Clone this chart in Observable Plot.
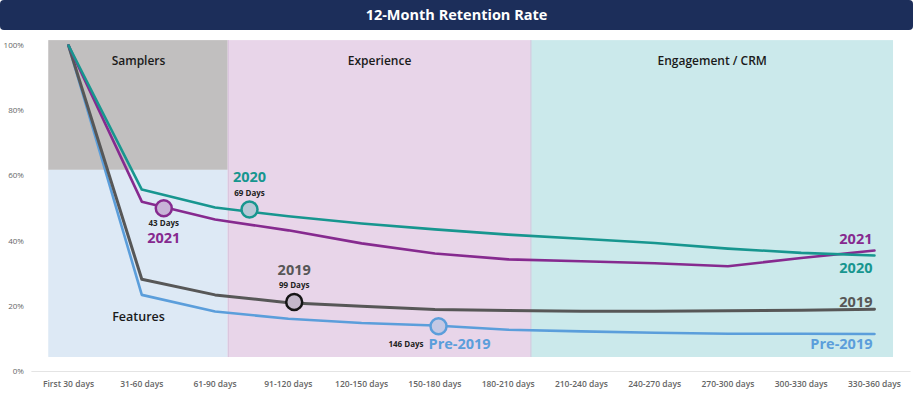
<!DOCTYPE html>
<html><head><meta charset="utf-8">
<script src="https://cdn.jsdelivr.net/npm/d3@7"></script>
<script src="https://cdn.jsdelivr.net/npm/@observablehq/plot@0.6"></script>
<style>
body{margin:0;background:#fff;font-family:"Open Sans",sans-serif;}
#title{width:913px;height:30px;background:#1c2e5a;border-radius:4px;color:#fff;font:700 14.5px "Open Sans",sans-serif;line-height:30px;text-align:center;}
#chart svg{display:block;}
</style></head><body>
<div id="title">12-Month Retention Rate</div>
<div id="chart"></div>
<script>
const categories = ["First 30 days","31-60 days","61-90 days","91-120 days","120-150 days","150-180 days","180-210 days","210-240 days","240-270 days","270-300 days","300-330 days","330-360 days"];
const seriesNames = ["Pre-2019","2019","2021","2020"];
const pre2019 = [100,23.5,18.4,16.2,14.9,14.1,12.8,12.3,11.9,11.6,11.6,11.5];
const s2019   = [100,28.3,23.5,21.1,20.0,19.0,18.7,18.5,18.5,18.6,18.8,19.1];
const s2021   = [100,52.1,46.6,43.3,39.3,36.2,34.4,33.8,33.2,32.3,34.8,37.1];
const s2020   = [100,55.8,50.3,47.6,45.4,43.6,42.0,40.7,39.4,37.7,36.4,35.6];
const yTicks = [0,20,40,60,80,100];

const phaseNames = ["Samplers","Features","Experience","Engagement / CRM"];
const phaseStart = [-0.27,-0.27,2.18,6.31];
const phaseEnd   = [2.18,2.18,6.31,11.26];
const phaseLow   = [61.7,4.3,4.3,4.3];
const phaseHigh  = [101.5,61.7,101.5,101.5];

const milestoneSeries = ["Pre-2019","2019","2020","2021"];
const milestoneLabels = ["146 Days","99 Days","69 Days","43 Days"];
const milestoneAt     = [5.05,3.08,2.47,1.30];
const milestoneRate   = [13.9,21.3,49.7,50.1];

// styles
const lineColor = {"Pre-2019":"#5b9edb","2019":"#575757","2020":"#17968f","2021":"#862a8f"};
const dotFill = {"Pre-2019":"#c3c8e4","2019":"#c3b7c9","2020":"#b6c8d6","2021":"#c8b3d7"};
const dotStroke = {"Pre-2019":"#5b9edb","2019":"#151515","2020":"#17968f","2021":"#862a8f"};
const phaseFill = {"Samplers":"#c1bfbf","Features":"#dde9f5","Experience":"#e8d5e9","Engagement / CRM":"#cbe9eb"};
const endDy = {"Pre-2019":10,"2019":-7,"2020":13,"2021":-11};

const valuesBy = {"Pre-2019":pre2019,"2019":s2019,"2020":s2020,"2021":s2021};
const rows = seriesNames.flatMap(s => categories.map((c,i)=>({i, series:s, value:valuesBy[s][i]})));
const phases = phaseNames.map((name,k)=>({name, x1:phaseStart[k], x2:phaseEnd[k], y1:phaseLow[k], y2:phaseHigh[k]}));
const milestones = milestoneSeries.map((s,k)=>({series:s, label:milestoneLabels[k], at:milestoneAt[k], rate:milestoneRate[k]}));
const ends = seriesNames.map(s=>({series:s, i:categories.length-1, value:valuesBy[s][categories.length-1]}));
const ms = s => milestones.filter(d=>d.series===s);

const font = "Open Sans";
const big = 14.5;
const plot = Plot.plot({
  width: 914, height: 364,
  marginLeft: 31.4, marginRight: 3.4, marginTop: 15, marginBottom: 23,
  x: {type:"linear", domain:[-0.5, 11.5]},
  y: {domain:[0,100]},
  color: {type:"identity"},
  style: {fontFamily: font, background:"#fff"},
  marks: [
    Plot.rect(phases, {x1:"x1", x2:"x2", y1:"y1", y2:"y2", fill: d=>phaseFill[d.name]}),
    Plot.ruleX([phaseEnd[0], phaseEnd[2]], {y1:phaseLow[2], y2:phaseHigh[2], stroke:"#d6c1da", strokeWidth:1}),
    Plot.ruleY([0], {stroke:"#e4e4e4", strokeWidth:1}),
    Plot.text(phases.filter(d=>d.name!=="Features"), {x:d=>(d.x1+d.x2)/2, y:"y2", text:"name", dy:21, fontSize:12, fontWeight:600, fill:"#1a1a1a"}),
    Plot.text(phases.filter(d=>d.name==="Features"), {x:d=>(d.x1+d.x2)/2, y:"y1", text:"name", dy:-40, fontSize:12.5, fontWeight:600, fill:"#1a1a1a"}),
    ...seriesNames.map(s => Plot.line(rows.filter(d=>d.series===s), {x:"i", y:"value", stroke:lineColor[s], strokeWidth: s==="2019" ? 3 : 2.6, strokeLinejoin:"round"})),
    Plot.dot(milestones, {x:"at", y:"rate", r:8, fill:d=>dotFill[d.series], stroke:d=>dotStroke[d.series], strokeWidth:2.5}),
    // milestone annotations
    Plot.text(ms("2021"), {x:"at", y:"rate", text:"label", dy:15, fontSize:8, fontWeight:700, fill:"#222"}),
    Plot.text(ms("2021"), {x:"at", y:"rate", text:"series", dy:30.5, fontSize:big, fontWeight:700, fill:lineColor["2021"]}),
    Plot.text(ms("2020"), {x:"at", y:"rate", text:"label", dy:-16.5, fontSize:8, fontWeight:700, fill:"#222"}),
    Plot.text(ms("2020"), {x:"at", y:"rate", text:"series", dy:-32, fontSize:big, fontWeight:700, fill:lineColor["2020"]}),
    Plot.text(ms("2019"), {x:"at", y:"rate", text:"label", dy:-16.5, fontSize:8, fontWeight:700, fill:"#222"}),
    Plot.text(ms("2019"), {x:"at", y:"rate", text:"series", dy:-32, fontSize:big, fontWeight:700, fill:lineColor["2019"]}),
    Plot.text(ms("Pre-2019"), {x:"at", y:"rate", text:"label", dx:-15, dy:18.5, textAnchor:"end", fontSize:8, fontWeight:700, fill:"#222"}),
    Plot.text(ms("Pre-2019"), {x:"at", y:"rate", text:"series", dx:-10, dy:18, textAnchor:"start", fontSize:big, fontWeight:700, fill:lineColor["Pre-2019"]}),
    // end labels
    ...ends.map(d => Plot.text([d], {x:"i", y:"value", text:"series", dx:-2, dy:endDy[d.series], textAnchor:"end", fontSize:big, fontWeight:700, fill:lineColor[d.series]})),
    Plot.axisY(yTicks, {tickSize:0, tickPadding:8, tickFormat:d=>d+"%", fontSize:8, fill:"#666", label:null}),
    Plot.axisX(d3.range(categories.length), {tickSize:0, tickPadding:9, tickFormat:i=>categories[i], fontSize:8.5, fontWeight:600, fill:"#666", label:null})
  ]
});
document.getElementById("chart").appendChild(plot);
</script>
</body></html>
